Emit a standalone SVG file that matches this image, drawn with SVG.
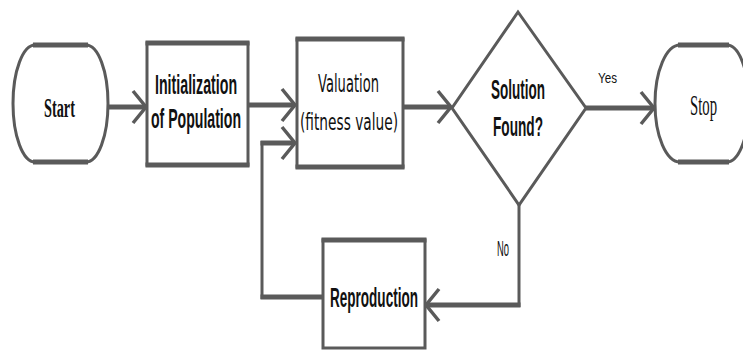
<svg xmlns="http://www.w3.org/2000/svg" width="743" height="350" viewBox="0 0 743 350">
  <defs>
    <style>
      .shape { fill: #ffffff; stroke: #5a5a5a; stroke-width: 3; }
      .edge-h { fill: none; stroke: #5a5a5a; stroke-width: 5; }
      .wire-h { fill: none; stroke: #5a5a5a; stroke-width: 5; }
      .wire-v { fill: none; stroke: #5a5a5a; stroke-width: 3; }
      .sans { font-family: "Liberation Sans", Arial, sans-serif; fill: #111111; font-weight: bold; }
      .plain { font-weight: normal; }
      .verd { font-family: "DejaVu Sans", Verdana, sans-serif; fill: #111111; font-weight: normal; }
      .serif { font-family: "Liberation Serif", "Times New Roman", serif; fill: #111111; }
    </style>
    <!-- open chevron arrowhead, tip at the path end -->
    <marker id="chev" markerUnits="userSpaceOnUse" markerWidth="20" markerHeight="40"
            viewBox="-18 -20 20 40" refX="0" refY="0" orient="auto" overflow="visible">
      <path d="M-13,-16 L0,0 L-13,16" fill="none" stroke="#5a5a5a" stroke-width="3.5"/>
    </marker>
  </defs>

  <rect x="0" y="0" width="743" height="350" fill="#ffffff"/>

  <!-- connectors; labels are horizontally condensed with scale() -->
  <g id="connectors">
    <path class="wire-h" d="M108,107 H146" marker-end="url(#chev)"/>
    <path class="wire-h" d="M248,105 H295" marker-end="url(#chev)"/>
    <path class="wire-v" d="M262,141 V299"/>
    <path class="wire-h" d="M260.5,143 H295" marker-end="url(#chev)"/>
    <path class="wire-h" d="M260.5,297 H323"/>
    <path class="wire-h" d="M404,107 H451" marker-end="url(#chev)"/>
    <path class="wire-h" d="M586,108 H654" marker-end="url(#chev)"/>
    <path class="wire-v" d="M519,205 V307"/>
    <path class="wire-h" d="M520.5,305 H426" marker-end="url(#chev)"/>
    <text class="sans plain" transform="translate(598,83) scale(0.736,1)" font-size="15" textLength="25.8" lengthAdjust="spacingAndGlyphs">Yes</text>
    <text class="sans plain" transform="translate(497,256) scale(0.427,1)" font-size="22" textLength="28.1" lengthAdjust="spacingAndGlyphs">No</text>
  </g>

  <g id="start">
    <path class="shape" d="M35,45 H86 A22,58.5 0 0 1 86,162 H35 A22,58.5 0 0 1 35,45 Z"/>
    <path class="edge-h" d="M33,45 H88 M33,162 H88"/>
    <text class="serif" transform="translate(44,117) scale(0.511,1)" font-size="28" font-weight="bold" textLength="60.6" lengthAdjust="spacingAndGlyphs">Start</text>
  </g>

  <g id="init">
    <rect class="shape" x="147" y="43" width="101" height="122"/>
    <path class="edge-h" d="M145.5,43 H249.5 M145.5,165 H249.5"/>
    <text class="sans" transform="translate(155,94) scale(0.526,1)" font-size="27" textLength="156" lengthAdjust="spacingAndGlyphs">Initialization</text>
    <text class="sans" transform="translate(151,128) scale(0.522,1)" font-size="27" textLength="172.4" lengthAdjust="spacingAndGlyphs">of Population</text>
  </g>

  <g id="valuation">
    <rect class="shape" x="297" y="39" width="106" height="128"/>
    <path class="edge-h" d="M295.5,39 H404.5 M295.5,167 H404.5"/>
    <text class="verd" transform="translate(318,92) scale(0.536,1)" font-size="24" textLength="113.8" lengthAdjust="spacingAndGlyphs">Valuation</text>
    <text class="verd" transform="translate(300,130) scale(0.596,1)" font-size="23" textLength="164.4" lengthAdjust="spacingAndGlyphs">(fitness value)</text>
  </g>

  <g id="decision">
    <path class="shape" stroke-width="3.5" d="M518,12 L586,108 L519,205 L452,108 Z"/>
    <text class="sans" transform="translate(491,99) scale(0.5,1)" font-size="27" textLength="108" lengthAdjust="spacingAndGlyphs">Solution</text>
    <text class="sans" transform="translate(493,136) scale(0.505,1)" font-size="27" textLength="99" lengthAdjust="spacingAndGlyphs">Found?</text>
  </g>

  <g id="stop">
    <path class="shape" d="M680,45 H727 A22,58.5 0 0 1 727,162 H680 A25,58.5 0 0 1 680,45 Z"/>
    <path class="edge-h" d="M678,45 H729 M678,162 H729"/>
    <text class="serif" transform="translate(690,115) scale(0.508,1)" font-size="29" textLength="53.2" lengthAdjust="spacingAndGlyphs">Stop</text>
  </g>

  <g id="reproduction">
    <rect class="shape" x="323" y="240" width="102" height="108"/>
    <path class="edge-h" d="M321.5,240 H426.5"/>
    <text class="sans" transform="translate(330,307) scale(0.501,1)" font-size="27" textLength="175.6" lengthAdjust="spacingAndGlyphs">Reproduction</text>
  </g>
</svg>
